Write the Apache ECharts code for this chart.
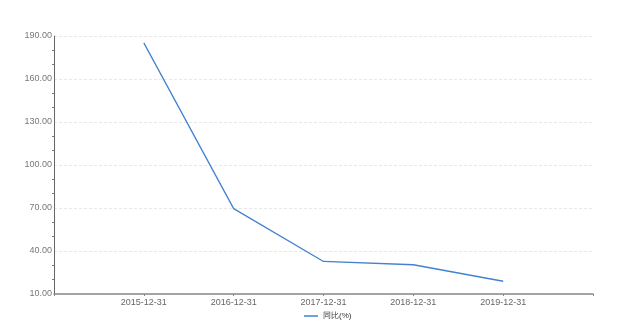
<!DOCTYPE html>
<html><head><meta charset="utf-8">
<script src="https://cdn.jsdelivr.net/npm/echarts@6/dist/echarts.min.js"></script>
<style>html,body{margin:0;padding:0;background:#fff}#c{width:630px;height:334px}</style>
</head><body><div id="c"></div>
<script>
const categories = ["", "2015-12-31", "2016-12-31", "2017-12-31", "2018-12-31", "2019-12-31", ""];
const seriesName = "同比(%)";
const values = [null, 185.2, 69.6, 32.7, 30.4, 18.9, null];

const chart = echarts.init(document.getElementById('c'), null, {renderer: 'canvas'});
chart.setOption({
  animation: false,
  legend: {
    bottom: 9, left: 299, itemWidth: 14, itemHeight: 8, itemGap: 10,
    textStyle: {fontSize: 8, color: '#333'},
    data: [{name: seriesName, icon: 'path://M0,0 L14,0 L14,1.5 L0,1.5 Z'}]
  },
  grid: {left: 54, right: 37, top: 36, bottom: 40, containLabel: false},
  xAxis: {
    type: 'category', data: categories, boundaryGap: false,
    axisLine: {lineStyle: {color: '#888', width: 1.5}},
    axisTick: {show: true, length: 2, lineStyle: {color: '#888'}},
    axisLabel: {fontSize: 9, color: '#666', margin: 4, interval: 0},
    splitLine: {show: false}
  },
  yAxis: {
    type: 'value', min: 10, max: 190, interval: 30,
    axisLine: {show: true, lineStyle: {color: '#666', width: 1}},
    axisTick: {show: false},
    minorTick: {show: true, splitNumber: 3, length: 2, lineStyle: {color: '#777'}},
    axisLabel: {fontSize: 9, color: '#777', margin: 2, formatter: v => v.toFixed(2)},
    splitLine: {lineStyle: {color: '#e8e8e8', type: [3, 2], width: 1}}
  },
  series: [{
    name: seriesName, type: 'line', data: values,
    showSymbol: false, symbol: 'none',
    lineStyle: {color: '#4282cf', width: 1.3},
    itemStyle: {color: '#4282cf'}
  }]
});
</script></body></html>
